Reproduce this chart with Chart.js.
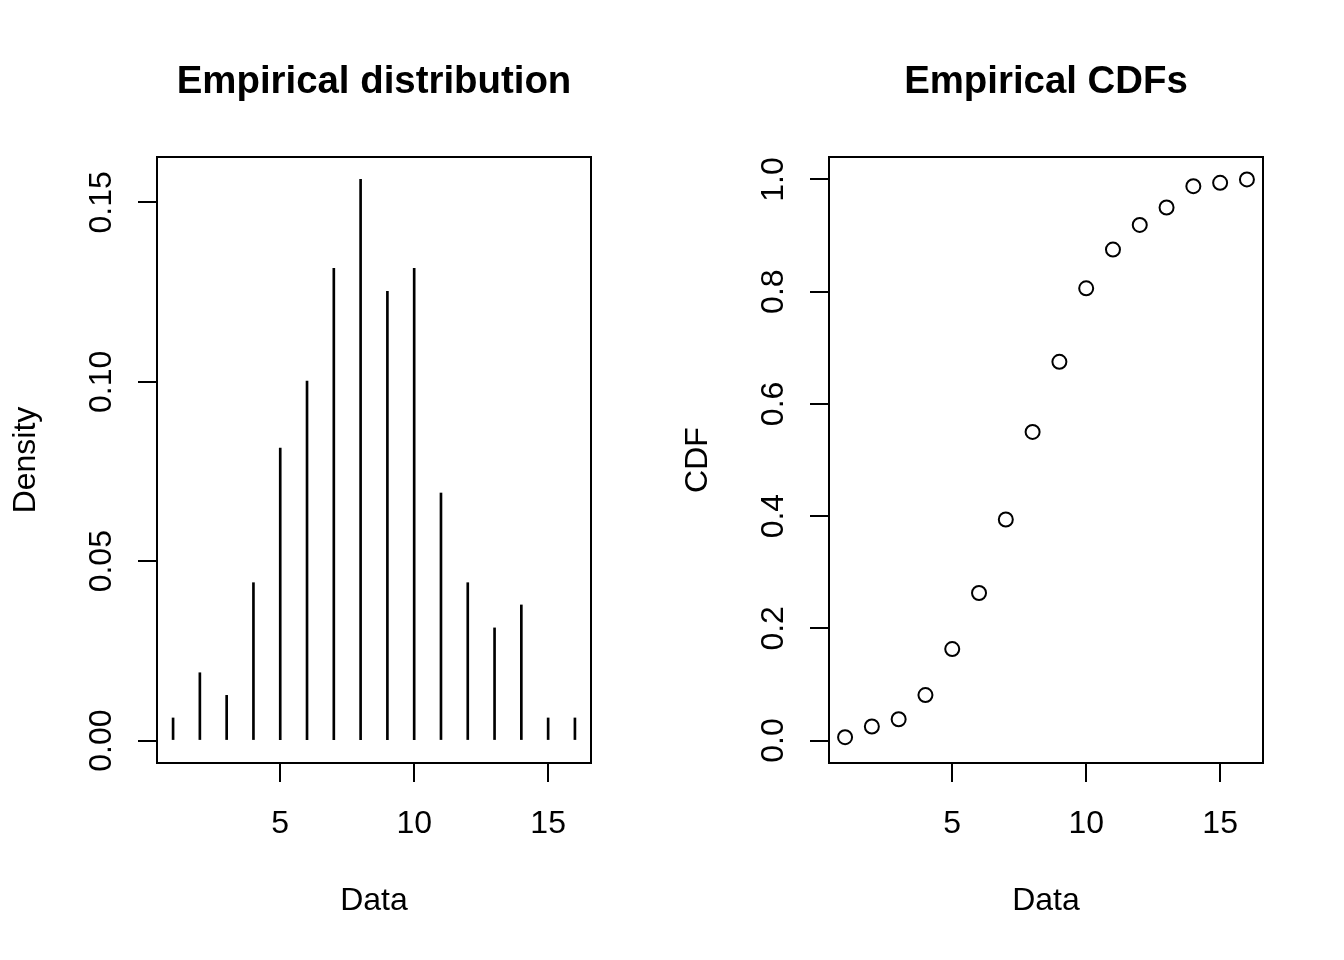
<!DOCTYPE html>
<html>
<head>
<meta charset="utf-8">
<title>Empirical distribution / Empirical CDFs</title>
<script src="https://cdn.jsdelivr.net/npm/chart.js@4/dist/chart.umd.min.js"></script>
<style>
  body { margin: 0; background: #fff; }
  #wrap { display: flex; width: 1344px; height: 960px; }
  canvas { display: block; }
</style>
</head>
<body>
<div id="wrap">
  <canvas id="density-chart" width="672" height="960"></canvas>
  <canvas id="cdf-chart" width="672" height="960"></canvas>
</div>
<script>
// Data
const dataValues = [1, 2, 3, 4, 5, 6, 7, 8, 9, 10, 11, 12, 13, 14, 15, 16];
const density = [0.0063, 0.0189, 0.0126, 0.0440, 0.0815, 0.1002, 0.1316, 0.1564,
  0.1252, 0.1316, 0.0690, 0.0440, 0.0314, 0.0378, 0.0063, 0.0063];
const cdf = [0.006, 0.025, 0.038, 0.081, 0.163, 0.263, 0.394, 0.550,
  0.675, 0.806, 0.875, 0.919, 0.950, 0.988, 0.994, 1.000];

const xTicks = [5, 10, 15];
const densityTicks = [0, 0.05, 0.1, 0.15];
const densityTickLabels = ["0.00", "0.05", "0.10", "0.15"];
const cdfTicks = [0, 0.2, 0.4, 0.6, 0.8, 1.0];
const cdfTickLabels = ["0.0", "0.2", "0.4", "0.6", "0.8", "1.0"];

const FONT = '"Liberation Sans", Arial, Helvetica, sans-serif';

// R-like axis decorations: box, rotated y labels, titles
const rDecor = {
  id: "rDecor",
  afterDraw(chart, args, opts) {
    const { ctx, chartArea } = chart;
    const yScale = chart.scales.y;
    ctx.save();
    ctx.strokeStyle = "#000";
    ctx.lineWidth = 2;
    ctx.strokeRect(chartArea.left, chartArea.top,
      chartArea.right - chartArea.left, chartArea.bottom - chartArea.top);

    ctx.fillStyle = "#000";
    ctx.textAlign = "center";
    ctx.textBaseline = "alphabetic";
    ctx.font = "32px " + FONT;

    // y tick labels, rotated like R's las = 0
    opts.yTicks.forEach((v, i) => {
      const py = yScale.getPixelForValue(v);
      ctx.save();
      ctx.translate(chartArea.left - 46, py);
      ctx.rotate(-Math.PI / 2);
      ctx.fillText(opts.yLabels[i], 0, 0);
      ctx.restore();
    });

    // y axis title
    const midY = (chartArea.top + chartArea.bottom) / 2;
    ctx.save();
    ctx.translate(chartArea.left - 122, midY);
    ctx.rotate(-Math.PI / 2);
    ctx.fillText(opts.yTitle, 0, 0);
    ctx.restore();

    // x axis title
    const midX = (chartArea.left + chartArea.right) / 2;
    ctx.fillText(opts.xTitle, midX, 910);

    // main title
    ctx.font = "bold 38.4px " + FONT;
    ctx.fillText(opts.title, midX, 93);
    ctx.restore();
  },
};

function xScale() {
  return {
    type: "linear",
    min: 0.4,
    max: 16.6,
    offset: false,
    afterBuildTicks: (scale) => {
      scale.ticks = xTicks.map((v) => ({ value: v }));
    },
    afterFit: (scale) => {
      scale.height = 197;
    },
    grid: {
      offset: false,
      drawOnChartArea: false,
      drawTicks: true,
      tickLength: 19,
      color: "#000",
      lineWidth: 2,
    },
    border: { display: true, color: "#000", width: 2 },
    ticks: {
      color: "#000",
      padding: 23,
      maxRotation: 0,
      font: { family: FONT, size: 32 },
    },
  };
}

function yScale(min, max, ticks) {
  return {
    type: "linear",
    min: min,
    max: max,
    afterBuildTicks: (scale) => {
      scale.ticks = ticks.map((v) => ({ value: v }));
    },
    afterFit: (scale) => {
      scale.width = 157;
    },
    grid: {
      drawOnChartArea: false,
      drawTicks: true,
      tickLength: 19,
      color: "#000",
      lineWidth: 2,
    },
    border: { display: true, color: "#000", width: 2 },
    ticks: { display: false },
  };
}

const common = {
  responsive: false,
  animation: false,
  devicePixelRatio: 1,
  layout: { padding: { top: 157, right: 81, bottom: 0, left: 0 } },
};

// Left: empirical distribution drawn as thin vertical bars (type "h")
const densityMax = Math.max(...density);
new Chart(document.getElementById("density-chart"), {
  type: "bar",
  data: {
    datasets: [
      {
        data: dataValues.map((x, i) => ({ x: x, y: density[i] })),
        backgroundColor: "#000",
        borderWidth: 0,
        barThickness: 2,
      },
    ],
  },
  options: {
    ...common,
    plugins: {
      legend: { display: false },
      tooltip: { enabled: false },
      rDecor: {
        yTicks: densityTicks,
        yLabels: densityTickLabels,
        yTitle: "Density",
        xTitle: "Data",
        title: "Empirical distribution",
      },
    },
    scales: {
      x: xScale(),
      y: yScale(-0.04 * densityMax, 1.04 * densityMax, densityTicks),
    },
  },
  plugins: [rDecor],
});

// Right: empirical CDF as open circles
new Chart(document.getElementById("cdf-chart"), {
  type: "scatter",
  data: {
    datasets: [
      {
        data: dataValues.map((x, i) => ({ x: x, y: cdf[i] })),
        pointStyle: "circle",
        pointRadius: 7,
        borderWidth: 2,
        borderColor: "#000",
        backgroundColor: "rgba(0,0,0,0)",
      },
    ],
  },
  options: {
    ...common,
    plugins: {
      legend: { display: false },
      tooltip: { enabled: false },
      rDecor: {
        yTicks: cdfTicks,
        yLabels: cdfTickLabels,
        yTitle: "CDF",
        xTitle: "Data",
        title: "Empirical CDFs",
      },
    },
    scales: {
      x: xScale(),
      y: yScale(-0.04, 1.04, cdfTicks),
    },
  },
  plugins: [rDecor],
});
</script>
</body>
</html>
